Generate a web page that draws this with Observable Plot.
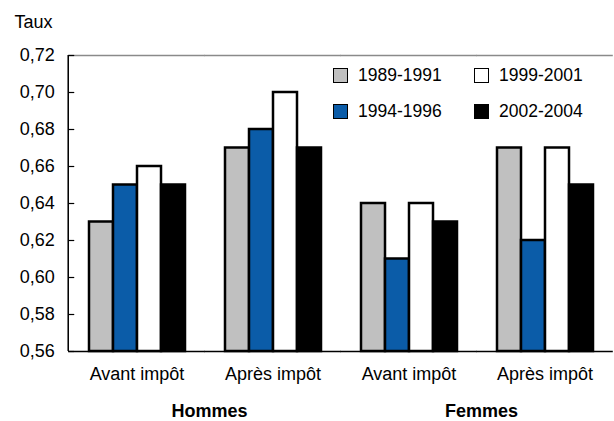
<!DOCTYPE html>
<html>
<head>
<meta charset="utf-8">
<script src="https://cdn.jsdelivr.net/npm/d3@7"></script>
<script src="https://cdn.jsdelivr.net/npm/@observablehq/plot@0.6"></script>
<style>
  body { margin: 0; background: #fff; overflow: hidden; }
  #wrap { position: relative; width: 614px; height: 421px; font-family: "Liberation Sans", Arial, sans-serif; }
  #legend { position: absolute; left: 333px; top: 66px; display: grid; grid-template-columns: 141px 120px; row-gap: 17px; font-size: 17.5px; color: #000; }
  .item { display: flex; align-items: center; height: 19px; }
  .sw { width: 13px; height: 13px; border: 1.5px solid #000; margin-right: 10px; box-sizing: content-box; }
</style>
</head>
<body>
<div id="wrap"><div id="legend"></div></div>
<script>
const groups = ["H-Avant", "H-Apres", "F-Avant", "F-Apres"];
const groupLabels = ["Avant impôt", "Après impôt", "Avant impôt", "Après impôt"];
const sexes = ["Hommes", "Femmes"];
const sexGroups = ["H-Avant", "F-Avant"];
const series = ["1989-1991", "1994-1996", "1999-2001", "2002-2004"];
const colors = ["#c0c0c0", "#0b5ca8", "#ffffff", "#000000"];
const v1989 = [0.63, 0.67, 0.64, 0.67];
const v1994 = [0.65, 0.68, 0.61, 0.62];
const v1999 = [0.66, 0.70, 0.64, 0.67];
const v2002 = [0.65, 0.67, 0.63, 0.65];
const yTicks = [0.56, 0.58, 0.60, 0.62, 0.64, 0.66, 0.68, 0.70, 0.72];

const allVals = [v1989, v1994, v1999, v2002];
const rows = [];
groups.forEach((g, gi) => series.forEach((s, si) => rows.push({g, s, v: allVals[si][gi]})));

const fmt = d => d.toFixed(2).replace(".", ",");
const ext = 18.8;      // half of the gap between facets
const facetW = 98.96;  // facet band width
const tickLen = 6;     // inward tick length

const chart = Plot.plot({
  width: 614,
  height: 421,
  marginLeft: 67,
  marginRight: 1,
  marginTop: 55,
  marginBottom: 70,
  style: {fontFamily: "Liberation Sans, Arial, sans-serif", fontSize: "18px", color: "#000", background: "#fff"},
  fx: {domain: groups, paddingInner: 0.275, paddingOuter: 0.1375, label: null, axis: null},
  x: {domain: series, padding: 0, axis: null},
  y: {domain: [0.56, 0.72], axis: null},
  color: {domain: series, range: colors},
  marks: [
    Plot.barY(rows, {fx: "g", x: "s", y1: 0.56, y2: "v", fill: "s", stroke: "#000", strokeWidth: 2.5}),
    Plot.ruleY([0.72], {stroke: "#8a8a8a", strokeWidth: 1.5, insetLeft: -ext, insetRight: -ext}),
    Plot.ruleY([0.56], {stroke: "#000", strokeWidth: 1.5, insetLeft: -ext, insetRight: -ext}),
    Plot.ruleY(yTicks.map(y => ({y, g: groups[0]})), {fx: "g", y: "y", stroke: "#000", strokeWidth: 1.2, insetLeft: -ext, insetRight: facetW + ext - tickLen}),
    Plot.barY([{g: groups[0], a: 0.56, b: 0.72}], {fx: "g", y1: "a", y2: "b", fill: "#000", insetLeft: -ext - 0.75, insetRight: facetW + ext - 0.75}),
    Plot.axisY({ticks: yTicks, tickFormat: fmt, tickSize: 0, tickPadding: 14, dx: -ext, label: null, fontSize: 18}),
    Plot.axisFx({anchor: "bottom", tickFormat: (d) => groupLabels[groups.indexOf(d)], tickSize: 0, tickPadding: 16, label: null, fontSize: 18}),
    Plot.text(sexGroups.map((g, i) => ({g, t: sexes[i]})), {fx: "g", text: "t", frameAnchor: "bottom-right", dx: 23, dy: 60, lineAnchor: "middle", textAnchor: "middle", fontWeight: "bold", fontSize: 18}),
    Plot.text([{g: groups[0], t: "Taux"}], {fx: "g", text: "t", frameAnchor: "top-left", dx: -73, dy: -28, lineAnchor: "bottom", textAnchor: "start", fontSize: 18})
  ]
});
document.getElementById("wrap").prepend(chart);

const legend = document.getElementById("legend");
[0, 2, 1, 3].forEach(i => {
  const item = document.createElement("div");
  item.className = "item";
  const sw = document.createElement("span");
  sw.className = "sw";
  sw.style.background = colors[i];
  item.appendChild(sw);
  item.appendChild(document.createTextNode(series[i]));
  legend.appendChild(item);
});
</script>
</body>
</html>
